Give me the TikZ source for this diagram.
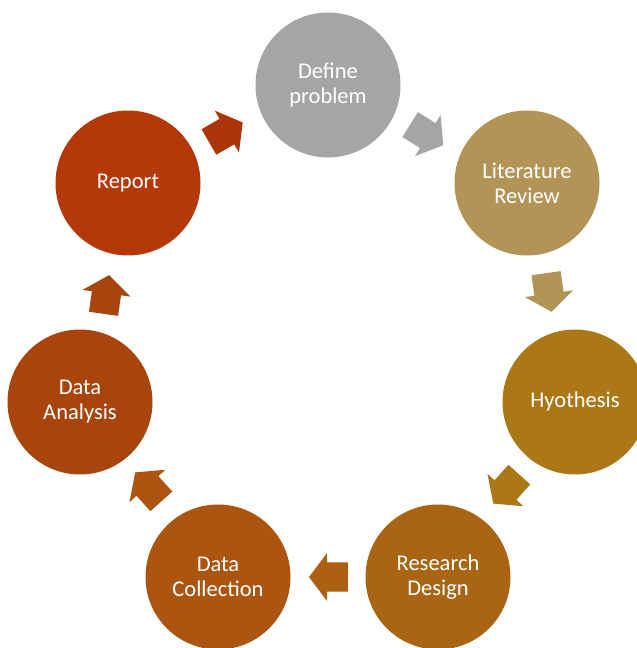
\documentclass[tikz,border=0pt]{standalone}
\usepackage{fontspec}
\setmainfont{Carlito}
\usetikzlibrary{shapes.arrows}
\definecolor{cdefine}{HTML}{A5A5A5}
\definecolor{clit}{HTML}{B39456}
\definecolor{chyo}{HTML}{AC7815}
\definecolor{cdesign}{HTML}{A96513}
\definecolor{ccollect}{HTML}{AB5510}
\definecolor{canalysis}{HTML}{A8450C}
\definecolor{creport}{HTML}{B53808}
\begin{document}
\begin{tikzpicture}[x=1pt,y=1pt,
stage/.style={circle,minimum size=145pt,inner sep=0pt,text=white,align=center,font=\fontsize{22.5}{25}\selectfont},
flow/.style={single arrow,minimum height=39pt,inner xsep=0pt,inner ysep=14.5pt,single arrow head extend=9.5pt,single arrow tip angle=106}]
\useasboundingbox (0,0) rectangle (637,648);
\node[stage,fill=cdefine] (define) at (328,563) {Define\\problem};
\node[stage,fill=clit] (lit) at (527,465) {Literature\\Review};
\node[stage,fill=chyo] (hyo) at (575,246) {Hyothesis};
\node[stage,fill=cdesign] (design) at (438,71) {Research\\Design};
\node[stage,fill=ccollect] (collect) at (218,71) {Data\\Collection};
\node[stage,fill=canalysis] (analysis) at (80,246) {Data\\Analysis};
\node[stage,fill=creport] (report) at (128,465) {Report};
% arrows between the stages
\node[flow,fill=creport!95!black,rotate=30] (a1) at (221,513) {};
\node[flow,fill=cdefine,rotate=-32] (a2) at (422,516) {};
\node[flow,fill=clit,rotate=-82] (a3) at (548,361) {};
\node[flow,fill=chyo,rotate=-132] (a4) at (510,163) {};
\node[flow,fill=cdesign!95!red,rotate=180] (a5) at (334,71) {};
\node[flow,fill=ccollect,rotate=132] (a6) at (152,157) {};
\node[flow,fill=canalysis,rotate=82] (a7) at (105.5,348) {};
\end{tikzpicture}
\end{document}
